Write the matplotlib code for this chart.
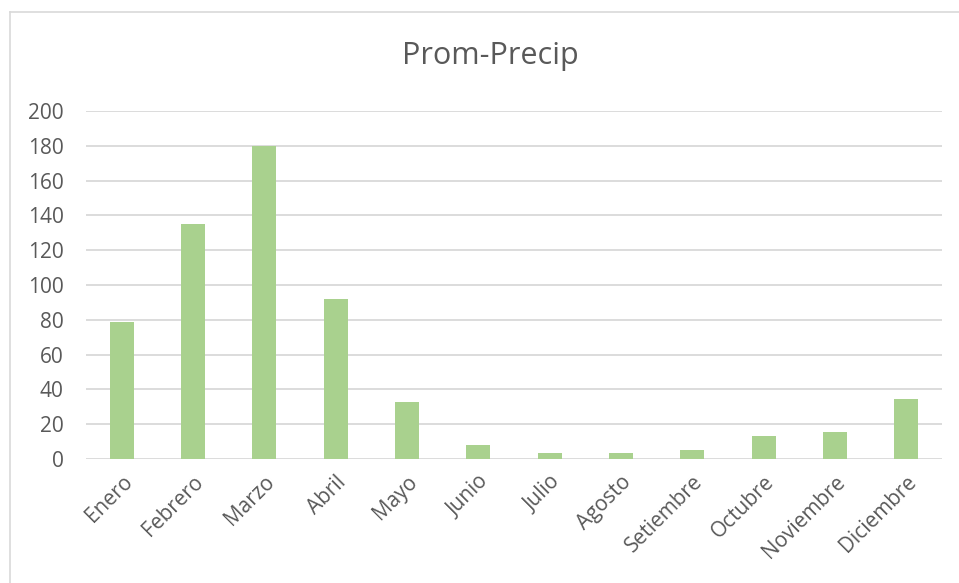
import matplotlib.pyplot as plt
from matplotlib.lines import Line2D

# monthly average rainfall
meses = ["Enero", "Febrero", "Marzo", "Abril", "Mayo", "Junio", "Julio",
         "Agosto", "Setiembre", "Octubre", "Noviembre", "Diciembre"]
precip = [79, 135, 180, 92, 33, 8, 3.3, 3.3, 5.4, 13, 15.3, 34.5]
yticks = [0, 20, 40, 60, 80, 100, 120, 140, 160, 180, 200]

plt.rcParams['font.family'] = ['Open Sans', 'DejaVu Sans']
gris = "#595959"

fig = plt.figure(figsize=(9.59, 5.83), dpi=100)
# chart frame is cut off at the right and bottom edges
bx, by = 10 / 959, 1 - 12 / 583
fig.lines.append(Line2D([bx, bx], [0, by], transform=fig.transFigure,
                        color="#d9d9d9", linewidth=1.2))
fig.lines.append(Line2D([bx, 1], [by, by], transform=fig.transFigure,
                        color="#d9d9d9", linewidth=1.2))

ax = fig.add_axes([86 / 959, 1 - 459 / 583, 856 / 959, 348 / 583])
ax.bar(range(len(meses)), precip, width=0.34, color="#a9d18e", zorder=2)

ax.set_xlim(-0.5, len(meses) - 0.5)
ax.set_ylim(0, 200)
ax.set_yticks(yticks)
ax.set_yticklabels([str(v) for v in yticks])
ax.set_xticks(range(len(meses)))
ax.set_xticklabels(meses, rotation=45, ha="right", rotation_mode="anchor")

ax.grid(axis="y", color="#d9d9d9", linewidth=1.3, zorder=0)
for s in ax.spines.values():
    s.set_visible(False)
ax.tick_params(length=0, colors=gris, labelsize=15)
ax.tick_params(axis="y", pad=16)
ax.tick_params(axis="x", pad=9)

fig.text(490 / 959, 1 - 56 / 583, "Prom-Precip", ha="center", va="center",
         fontsize=22, color=gris)

fig.savefig("out.png", dpi=100)
